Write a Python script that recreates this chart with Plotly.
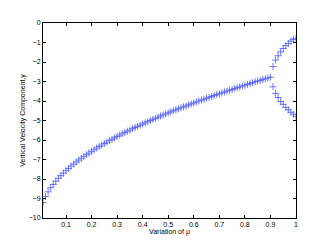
import plotly.graph_objects as go

# main branch (mu = 0.01 .. 0.90)
mu_main = [round(0.01 * i, 2) for i in range(1, 91)]
v_main = [-9.21, -8.90, -8.66, -8.45, -8.28, -8.11, -7.96, -7.83, -7.70, -7.57,
          -7.46, -7.34, -7.24, -7.13, -7.03, -6.94, -6.84, -6.75, -6.67, -6.58,
          -6.50, -6.41, -6.33, -6.26, -6.18, -6.11, -6.03, -5.96, -5.89, -5.82,
          -5.75, -5.68, -5.62, -5.55, -5.49, -5.42, -5.36, -5.30, -5.24, -5.18,
          -5.12, -5.06, -5.00, -4.94, -4.89, -4.83, -4.77, -4.72, -4.66, -4.61,
          -4.56, -4.50, -4.45, -4.40, -4.35, -4.30, -4.25, -4.20, -4.15, -4.10,
          -4.05, -4.00, -3.95, -3.91, -3.86, -3.81, -3.77, -3.72, -3.67, -3.63,
          -3.58, -3.54, -3.49, -3.45, -3.41, -3.36, -3.32, -3.28, -3.23, -3.19,
          -3.15, -3.11, -3.06, -3.02, -2.98, -2.94, -2.90, -2.86, -2.82, -2.78]

# bifurcated branches (mu = 0.91 .. 1.00)
mu_branch = [0.91, 0.92, 0.93, 0.94, 0.95, 0.96, 0.97, 0.98, 0.99, 1.00]
v_upper = [-2.23, -1.90, -1.68, -1.48, -1.31, -1.16, -1.05, -0.93, -0.84, -0.80]
v_lower = [-3.27, -3.61, -3.82, -4.03, -4.17, -4.33, -4.45, -4.58, -4.68, -4.78]

x_ticks = [0.1, 0.2, 0.3, 0.4, 0.5, 0.6, 0.7, 0.8, 0.9, 1]
x_tick_text = ["0.1", "0.2", "0.3", "0.4", "0.5", "0.6", "0.7", "0.8", "0.9", "1"]
y_ticks = [0, -1, -2, -3, -4, -5, -6, -7, -8, -9, -10]
y_tick_text = ["0", "\u22121", "\u22122", "\u22123", "\u22124", "\u22125",
               "\u22126", "\u22127", "\u22128", "\u22129", "\u221210"]

marker = dict(symbol="cross-thin-open", size=5, color="#2b3cff",
              line=dict(color="#2b3cff", width=0.8))

fig = go.Figure()
for xs, ys in [(mu_main, v_main), (mu_branch, v_upper), (mu_branch, v_lower)]:
    fig.add_trace(go.Scatter(x=xs, y=ys, mode="markers", marker=marker,
                             opacity=0.85, showlegend=False, hoverinfo="skip"))

font = dict(family="Liberation Sans, Arial, sans-serif", size=7, color="#000000")
# the page body has an 8px margin, so margins are reduced by 8 on left/top
fig.update_layout(
    width=327, height=245,
    margin=dict(l=35, r=39, t=11, b=35),
    paper_bgcolor="white", plot_bgcolor="white",
    font=font,
    xaxis=dict(range=[0.01, 1], tickvals=x_ticks, ticktext=x_tick_text,
               ticks="inside", ticklen=3, tickcolor="#000000", tickwidth=0.7,
               showline=True, linecolor="#000000", linewidth=1, mirror="ticks",
               showgrid=False, zeroline=False,
               title=dict(text="Variation of \u03bc", font=font, standoff=1)),
    yaxis=dict(range=[-10, 0], tickvals=y_ticks, ticktext=y_tick_text,
               ticks="inside", ticklen=3, tickcolor="#000000", tickwidth=0.7,
               showline=True, linecolor="#000000", linewidth=1, mirror="ticks",
               showgrid=False, zeroline=False,
               title=dict(text="Vertical Velocity Component,y", font=font, standoff=2)),
)

fig.write_html("out.html")
